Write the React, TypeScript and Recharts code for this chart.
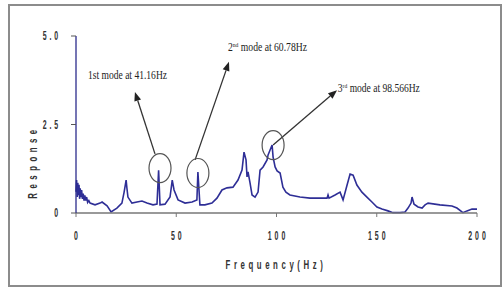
import React from 'react';
import { LineChart, Line, XAxis, YAxis, ReferenceDot, ReferenceLine } from 'recharts';

// frequency (Hz) and response
const freq = [
  0, 0.3, 0.6, 0.9, 1.2, 1.5, 1.8, 2.1, 2.4, 2.8, 3.2, 3.6, 4.0, 4.4, 4.8, 5.3, 5.8, 6.4, 7,
  9.5, 12, 13, 15.5, 17.5, 20.4, 22.9, 24, 25, 25.4, 25.9, 27.9, 30.4, 32.9, 35.4, 38.4, 40.4,
  41.2, 41.9, 44.4, 46.9, 48, 48.9, 50.9, 54.4, 57.9, 60.3, 60.8, 61.8, 64.3, 67.8, 70.3, 72.8,
  75.3, 78.3, 80.8, 82.8, 83.8, 84.8, 85.3, 85.8, 86.8, 87.8, 89.3, 90.8, 91.8, 93.3, 95.3, 95.8,
  96.8, 97.8, 98.3, 99.3, 100.3, 101.8, 103.2, 104.7, 106.7, 111.7, 116.7, 125.2, 125.7, 126.2,
  129.2, 131.7, 133.2, 135.2, 136.7, 138.2, 140.1, 142.6, 145.1, 147.6, 150.1, 152.6, 155.6,
  158.1, 161.6, 164.1, 165.6, 167.1, 167.6, 168.6, 170.6, 172.6, 174.1, 175.6, 181.5, 187.5,
  190, 192.5, 193, 195, 197.5, 200,
];
const response = [
  0.6, 0.93, 0.45, 0.85, 0.5, 0.8, 0.4, 0.7, 0.45, 0.65, 0.4, 0.55, 0.35, 0.5, 0.35, 0.45, 0.3, 0.35, 0.28,
  0.23, 0.28, 0.31, 0.2, 0.03, 0.14, 0.28, 0.59, 0.93, 0.7, 0.45, 0.28, 0.31, 0.34, 0.28, 0.23, 0.25,
  1.21, 0.23, 0.25, 0.45, 0.93, 0.65, 0.37, 0.28, 0.31, 0.37, 1.16, 0.23, 0.23, 0.28, 0.42, 0.65,
  0.71, 0.73, 0.93, 1.21, 1.72, 1.5, 1.02, 1.16, 0.85, 0.51, 0.45, 0.59, 1.21, 1.3, 1.5, 1.64,
  1.78, 1.92, 1.58, 1.3, 1.19, 1.13, 0.73, 0.59, 0.51, 0.45, 0.42, 0.42, 0.51, 0.42,
  0.51, 0.59, 0.37, 0.79, 1.1, 1.07, 0.79, 0.59, 0.45, 0.31, 0.17, 0.11, 0.06,
  0.01, 0.01, 0.03, 0.14, 0.28, 0.45, 0.25, 0.17, 0.14, 0.23, 0.28, 0.23, 0.2,
  0.14, 0.03, 0.01, 0.06, 0.11, 0.11,
];

const xTicks = [0, 50, 100, 150, 200];
const yTicks = [0, 2.5, 5];

// mode annotations
const circleX = [41.9, 60.8, 98.3];
const circleY = [1.27, 1.13, 1.92];
const arrowFromX = [39.4, 59.4, 98.3];
const arrowFromY = [1.67, 1.5, 1.92];
const arrowToX = [29.4, 76.3, 130.2];
const arrowToY = [3.42, 4.27, 3.47];
const labelX = [6.0, 75.8, 130.6];
const labelY = [3.79, 4.58, 3.42];
const labelNum = ['1st', '2', '3'];
const labelSup = ['', 'nd', 'rd'];
const labelRest = ['mode at 41.16Hz', ' mode at 60.78Hz', ' mode at 98.566Hz'];
const labelWidth = [79, 79, 82];

const data = freq.map((f, i) => ({ freq: f, response: response[i] }));

const narrow = '"Liberation Sans", Arial, sans-serif';

const XTick = (props: any) => {
  const { x, y, payload } = props;
  return (
    <text transform={`translate(${x + 1.5},${y + 21}) scale(0.58,1)`} textAnchor="middle"
      fontFamily={narrow} fontSize={12} fontWeight="bold" letterSpacing={5} fill="#333">
      {payload.value}
    </text>
  );
};

const YTick = (props: any) => {
  const { x, y, payload } = props;
  const v = payload.value === 0 ? '0' : payload.value.toFixed(1);
  return (
    <text transform={`translate(${x},${y + 4}) scale(0.58,1)`} textAnchor="end"
      fontFamily={narrow} fontSize={12} fontWeight="bold" letterSpacing={5} fill="#333">
      {v}
    </text>
  );
};

const Arrow = (props: any) => {
  const { x1, y1, x2, y2 } = props;
  const ang = Math.atan2(y2 - y1, x2 - x1);
  const len = 9;
  const w = 3.5;
  const bx = x2 - len * Math.cos(ang);
  const by = y2 - len * Math.sin(ang);
  const px = -Math.sin(ang) * w;
  const py = Math.cos(ang) * w;
  return (
    <g>
      <line x1={x1} y1={y1} x2={bx} y2={by} stroke="#333" strokeWidth={1.3} />
      <polygon points={`${x2},${y2} ${bx + px},${by + py} ${bx - px},${by - py}`} fill="#222" />
    </g>
  );
};

export default function App() {
  return (
    <div style={{ position: 'absolute', left: 0, top: 0, width: 503, height: 288, background: '#fff' }}>
      <div
        style={{
          position: 'absolute', left: 8, top: 4, width: 494, height: 283,
          border: '2px solid #8c8c8c', boxSizing: 'border-box',
        }}
      />
      <div style={{ position: 'absolute', left: 0, top: 0 }}>
        <LineChart width={503} height={288} data={data}
          margin={{ top: 36, right: 26, bottom: 45, left: 16 }}>
          <XAxis dataKey="freq" type="number" domain={[0, 200]} ticks={xTicks}
            axisLine={{ stroke: '#777', strokeWidth: 1.3 }} tickLine={{ stroke: '#777' }}
            tickSize={4} height={30} tick={<XTick />} interval={0}
            label={{
              content: () => (
                <text transform="translate(276,269) scale(0.6,1)" textAnchor="middle"
                  fontFamily={narrow} fontSize={13} fontWeight="bold" letterSpacing={6} fill="#333">
                  Frequency(Hz)
                </text>
              ),
            }}
          />
          <YAxis type="number" domain={[0, 5]} ticks={yTicks} width={60}
            axisLine={{ stroke: '#2b2b8c', strokeWidth: 1.3 }} tickLine={{ stroke: '#555' }}
            tickSize={5} tickMargin={10} tick={<YTick />} interval={0}
            label={{
              content: () => (
                <text transform="translate(37,162) rotate(-90) scale(0.6,1)" textAnchor="middle"
                  fontFamily={narrow} fontSize={13} fontWeight="bold" letterSpacing={7.5} fill="#333">
                  Response
                </text>
              ),
            }}
          />
          <Line type="linear" dataKey="response" stroke="#2e2e96" strokeWidth={1.6}
            dot={false} isAnimationActive={false} />
          {circleX.map((cx, i) => (
            <ReferenceDot key={`c${i}`} x={cx} y={circleY[i]} r={12}
              shape={(p: any) => (
                <ellipse cx={p.cx} cy={p.cy} rx={11} ry={14.5} fill="none" stroke="#555" strokeWidth={1.2} />
              )}
            />
          ))}
          {arrowFromX.map((fx, i) => (
            <ReferenceLine key={`a${i}`}
              segment={[{ x: fx, y: arrowFromY[i] }, { x: arrowToX[i], y: arrowToY[i] }]}
              shape={<Arrow />}
            />
          ))}
          {labelX.map((lx, i) => (
            <ReferenceDot key={`l${i}`} x={lx} y={labelY[i]} r={1}
              shape={(p: any) => (
                <text x={p.cx} y={p.cy} fontFamily='"Liberation Serif", serif' fontSize={12}
                  fill="#222" textLength={labelWidth[i]} lengthAdjust="spacingAndGlyphs">
                  {labelSup[i] ? (
                    <>
                      <tspan>{labelNum[i]}</tspan>
                      <tspan dy={-4} fontSize={7}>{labelSup[i]}</tspan>
                      <tspan dy={4}>{labelRest[i]}</tspan>
                    </>
                  ) : (
                    `${labelNum[i]} ${labelRest[i]}`
                  )}
                </text>
              )}
            />
          ))}
        </LineChart>
      </div>
    </div>
  );
}
